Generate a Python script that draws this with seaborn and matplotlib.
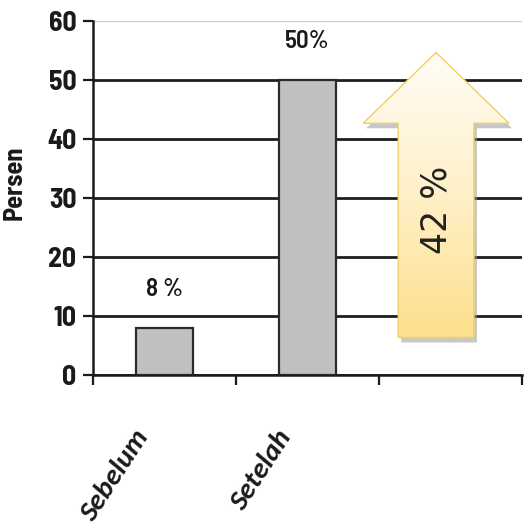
import numpy as np
import pandas as pd
import matplotlib
matplotlib.use("Agg")
import matplotlib.pyplot as plt
from matplotlib import font_manager
from matplotlib.patches import Polygon
from matplotlib.colors import LinearSegmentedColormap
from matplotlib.transforms import ScaledTranslation
import seaborn as sns

# ---- data ----
categories = ["Sebelum", "Setelah"]
values = [8, 50]
bar_labels = ["8 %", "50%"]
increase_label = "42 %"
y_label = "Persen"
y_ticks = [0, 10, 20, 30, 40, 50, 60]

sns.set_theme(style="white")

avail = {f.name for f in font_manager.fontManager.ttflist}


def pick(cands):
    for c in cands:
        if c in avail:
            return c
    return "DejaVu Sans"


narrow = pick(["Barlow Semi Condensed", "Asap Condensed", "Archivo Narrow"])
calib = pick(["Carlito", "Open Sans", "Noto Sans"])
plt.rcParams["font.family"] = [narrow, "DejaVu Sans"]

df = pd.DataFrame({"kategori": categories, "nilai": values})

fig = plt.figure(figsize=(5.25, 5.30), dpi=100)
ax = fig.add_axes([0.177, 0.292, 0.817, 0.668])

sns.barplot(data=df, x="kategori", y="nilai", order=categories, color="#c0c0c0",
            width=0.40, edgecolor="#2a2a2a", linewidth=1.6, saturation=1, ax=ax, zorder=3)

ax.set_xlim(-0.5, 2.5)
ax.set_ylim(0, 60)
ax.set_yticks(y_ticks)
ax.set_yticklabels([str(t) for t in y_ticks], fontsize=20, fontweight="bold",
                   color="#1a1a1a", family=[narrow, "DejaVu Sans"])
ax.set_ylabel(y_label, fontsize=19, fontweight="bold", family=[narrow, "DejaVu Sans"],
              color="#1a1a1a")
ax.yaxis.set_label_coords(-0.155, 0.545)
ax.set_xlabel("")

# gridlines
ax.yaxis.grid(True, color="#1e1e1e", linewidth=2.0, zorder=1)
ax.set_axisbelow(True)
gl = ax.get_ygridlines()
gl[-1].set_color("#c8c8c8")
gl[-1].set_linewidth(1.5)

for s in ["top", "right"]:
    ax.spines[s].set_visible(False)
for s in ["left", "bottom"]:
    ax.spines[s].set_color("#1a1a1a")
    ax.spines[s].set_linewidth(1.8)

ax.tick_params(axis="y", direction="out", length=7, width=1.6, color="#1a1a1a",
               left=True, pad=5)
# x: labels at category centers, ticks at slot boundaries
ax.set_xticks(range(len(categories)))
ax.set_xticklabels(categories, rotation=57, ha="right", va="top",
                   fontsize=21, fontweight="bold", fontstyle="italic", color="#1a1a1a",
                   family=[calib, "DejaVu Sans"])
ax.tick_params(axis="x", which="major", length=0, pad=36)
ax.set_xticks(np.arange(-0.5, 2.6, 1.0), minor=True)
ax.tick_params(axis="x", which="minor", direction="out", length=7, width=1.6,
               color="#1a1a1a", bottom=True)
for lab in ax.get_xticklabels():
    lab.set_transform(lab.get_transform() + ScaledTranslation(-0.12, 0, fig.dpi_scale_trans))

# bar value labels
for i, (v, t) in enumerate(zip(values, bar_labels)):
    ax.annotate(t, (i, v), xytext=(0, 28), textcoords="offset points",
                ha="center", va="center", fontsize=18, fontweight="semibold",
                color="#1a1a1a", zorder=5, family=[narrow, "DejaVu Sans"])

# ---- arrow decoration (layout) ----
cx, shaft_hw, head_hw = 1.9, 0.265, 0.51
y_bot, y_head, y_tip = 6.4, 42.7, 54.7
pts = np.array([
    [cx - shaft_hw, y_bot], [cx + shaft_hw, y_bot], [cx + shaft_hw, y_head],
    [cx + head_hw, y_head], [cx, y_tip], [cx - head_hw, y_head],
    [cx - shaft_hw, y_head]])

shadow = Polygon(pts, closed=True, facecolor="#9a9a9a", edgecolor="none", alpha=0.55,
                 zorder=3.5)
shadow.set_transform(ax.transData + ScaledTranslation(0.03, -0.05, fig.dpi_scale_trans))
ax.add_patch(shadow)

cmap = LinearSegmentedColormap.from_list("arr", ["#fde08c", "#fff0c8", "#fffdf7"])
grad = np.linspace(0, 1, 256).reshape(-1, 1)
im = ax.imshow(grad, cmap=cmap, origin="lower", aspect="auto",
               extent=[cx - head_hw, cx + head_hw, y_bot, y_tip], zorder=4)
arrow = Polygon(pts, closed=True, facecolor="none", edgecolor="#f3cf62", linewidth=1.0,
                zorder=4.5)
ax.add_patch(arrow)
im.set_clip_path(arrow)

ax.text(cx, 28, increase_label, rotation=90, ha="center", va="center",
        fontsize=25, family="DejaVu Sans", color="#222222", zorder=5)

ax.set_xlim(-0.5, 2.5)
ax.set_ylim(0, 60)

fig.savefig("out.png", dpi=100)
